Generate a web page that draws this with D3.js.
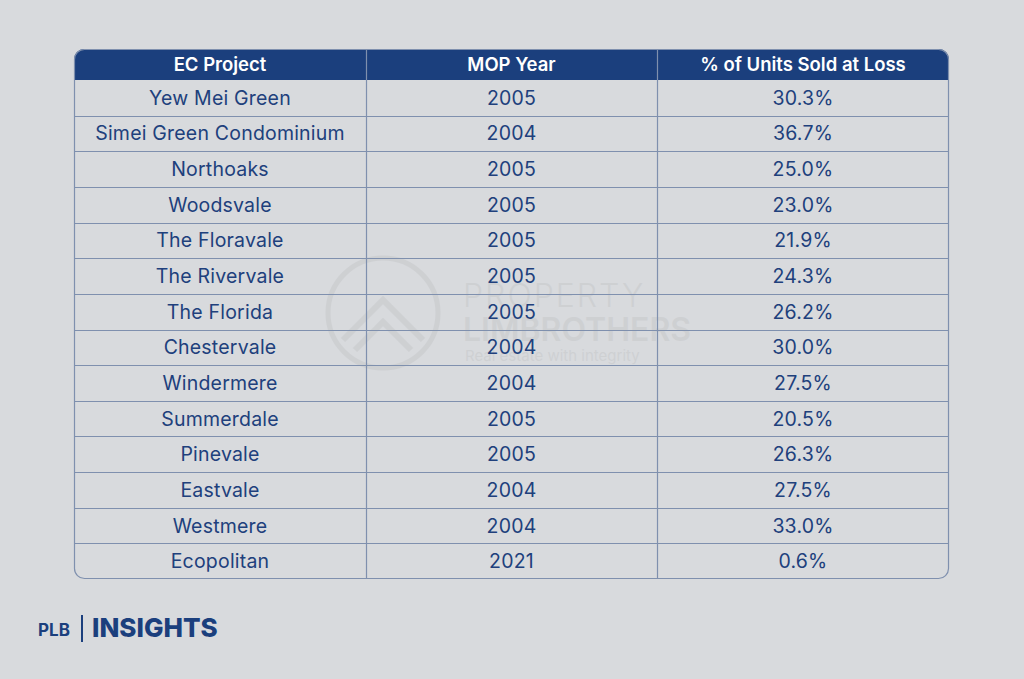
<!DOCTYPE html>
<html>
<head>
<meta charset="utf-8">
<script src="https://cdn.jsdelivr.net/npm/d3@7"></script>
<style>
html,body{margin:0;padding:0;background:#d8dadd;}
svg{display:block;}
</style>
</head>
<body>
<svg id="chart" width="1024" height="679"></svg>
<script>
const headers = ["EC Project", "MOP Year", "% of Units Sold at Loss"];
const projects = ["Yew Mei Green","Simei Green Condominium","Northoaks","Woodsvale","The Floravale","The Rivervale","The Florida","Chestervale","Windermere","Summerdale","Pinevale","Eastvale","Westmere","Ecopolitan"];
const mopYears = ["2005","2004","2005","2005","2005","2005","2005","2004","2004","2005","2005","2004","2004","2021"];
const pctLoss = [30.3,36.7,25.0,23.0,21.9,24.3,26.2,30.0,27.5,20.5,26.3,27.5,33.0,0.6];

(function(){
const svg = d3.select("#chart");
const W = 1024, H = 679;
svg.append("rect").attr("width",W).attr("height",H).attr("fill","#d8dadd");

const tLeft = 74, tRight = 949, tTop = 49, headH = 31, tBottom = 579;
const colEdges = [tLeft, 366, 657, tRight];
const navy = "#1b3f7d", textC = "#20407c", lineC = "#7f90ae";
const font = "Inter, 'Open Sans', sans-serif";

// watermark
const wm = svg.append("g").attr("opacity",0.07);
wm.append("circle").attr("cx",383).attr("cy",313).attr("r",55).attr("fill","none").attr("stroke","#555").attr("stroke-width",5);
wm.append("path").attr("d","M343,340 L383,300 L423,340 M355,350 L383,322 L411,350").attr("fill","none").attr("stroke","#555").attr("stroke-width",6);
wm.append("text").attr("x",463).attr("y",307).text("PROPERTY").attr("font-family",font).attr("font-size",32).attr("font-weight",300).attr("fill","#555").attr("letter-spacing",2);
wm.append("text").attr("x",463).attr("y",341).text("LIMBROTHERS").attr("font-family",font).attr("font-size",32).attr("font-weight",600).attr("fill","#555");
wm.append("text").attr("x",465).attr("y",361).text("Real estate with integrity").attr("font-family",font).attr("font-size",15).attr("fill","#555");

const y = d3.scaleBand().domain(d3.range(projects.length)).range([tTop+headH, tBottom]);
const cx = i => (colEdges[i]+colEdges[i+1])/2;

const r = 10;
svg.append("defs").append("clipPath").attr("id","tblclip")
  .append("rect").attr("x",tLeft).attr("y",tTop).attr("width",tRight-tLeft).attr("height",tBottom-tTop).attr("rx",r);

const tbl = svg.append("g").attr("clip-path","url(#tblclip)");
tbl.append("rect").attr("x",tLeft).attr("y",tTop).attr("width",tRight-tLeft).attr("height",headH).attr("fill",navy);

tbl.selectAll("line.h").data(d3.range(1,projects.length)).join("line")
  .attr("x1",tLeft).attr("x2",tRight)
  .attr("y1",d=>Math.round(y(d))+0.5).attr("y2",d=>Math.round(y(d))+0.5)
  .attr("stroke",lineC).attr("stroke-width",1.2);
tbl.selectAll("line.v").data([1,2]).join("line")
  .attr("x1",d=>colEdges[d]+0.5).attr("x2",d=>colEdges[d]+0.5)
  .attr("y1",tTop).attr("y2",tBottom)
  .attr("stroke",lineC).attr("stroke-width",1.2);

svg.append("rect").attr("x",tLeft+0.5).attr("y",tTop+0.5).attr("width",tRight-tLeft-1).attr("height",tBottom-tTop-1).attr("rx",r)
  .attr("fill","none").attr("stroke",lineC).attr("stroke-width",1.2);

svg.selectAll("text.hd").data(headers).join("text").attr("class","hd")
  .attr("x",(d,i)=>cx(i)).attr("y",tTop+headH/2).attr("dy","0.36em")
  .attr("text-anchor","middle").attr("fill","#ffffff")
  .attr("font-family",font).attr("font-size",18.5).attr("font-weight",600)
  .text(d=>d);

const rows = projects.map((p,i)=>[p, mopYears[i], d3.format(".1f")(pctLoss[i])+"%"]);
const rowG = svg.selectAll("g.row").data(rows).join("g").attr("class","row")
  .attr("transform",(d,i)=>`translate(0,${y(i)+y.bandwidth()/2})`);
rowG.selectAll("text").data(d=>d).join("text")
  .attr("x",(d,i)=>cx(i)).attr("dy","0.36em")
  .attr("text-anchor","middle").attr("fill",textC)
  .attr("font-family",font).attr("font-size",19.5).attr("font-weight",400)
  .attr("letter-spacing",0.2)
  .text(d=>d);

svg.append("text").attr("x",38).attr("y",636).text("PLB").attr("font-family",font).attr("font-size",17).attr("font-weight",700).attr("fill",navy);
svg.append("line").attr("x1",82).attr("x2",82).attr("y1",615).attr("y2",642).attr("stroke",navy).attr("stroke-width",2);
svg.append("text").attr("x",92).attr("y",637).text("INSIGHTS").attr("font-family",font).attr("font-size",26).attr("font-weight",800).attr("fill",navy);
})();
</script>
</body>
</html>
